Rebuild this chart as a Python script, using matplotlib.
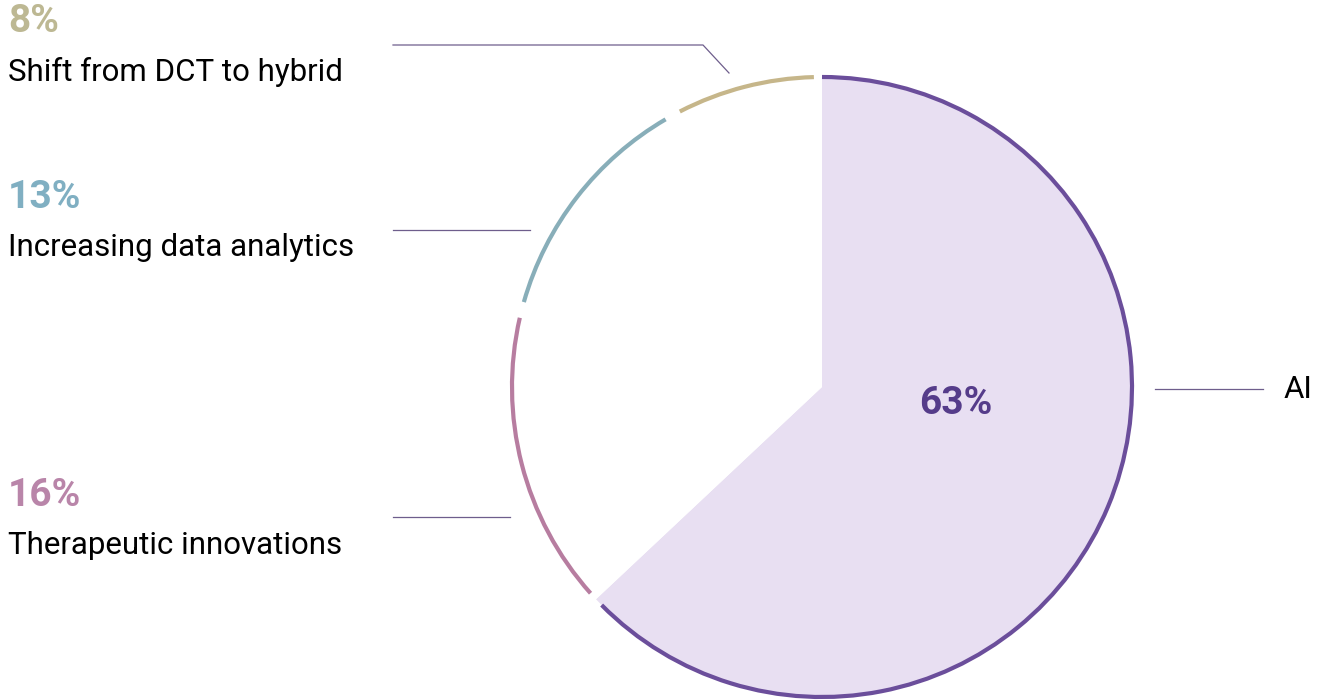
import matplotlib.pyplot as plt
from matplotlib.patches import Arc

plt.rcParams['font.family'] = ['Roboto', 'DejaVu Sans']

# slices, drawn clockwise from 12 o'clock
labels = ['AI', 'Therapeutic innovations', 'Increasing data analytics', 'Shift from DCT to hybrid']
shares = [63, 16, 13, 8]
arc_colors = ['#6B4E9B', '#B77DA0', '#88AEB9', '#C6B68A']
pct_colors = ['#553C8A', '#B985A9', '#80AFC2', '#BDB893']
fill_color = '#E8DFF2'
leader_color = '#6E5E8C'

W, H = 1322, 700
fig = plt.figure(figsize=(W / 100, H / 100), dpi=100)
ax = fig.add_axes([0, 0, 1, 1])

cx, cy, r = 822, H - 387, 310

wedges, _ = ax.pie(shares, startangle=90, counterclock=False,
                   center=(cx, cy), radius=r, frame=True,
                   colors=[fill_color, 'white', 'white', 'white'],
                   wedgeprops=dict(linewidth=0))
ax.set_xlim(0, W)
ax.set_ylim(0, H)
ax.set_aspect('equal')
ax.axis('off')

# coloured rim arcs with small gaps between slices
gap = 1.5
for i, (w, c) in enumerate(zip(wedges, arc_colors)):
    t1, t2 = w.theta1 + gap, w.theta2 - gap
    if i == 0:
        t2 = w.theta2
    ax.add_patch(Arc((cx, cy), 2 * r, 2 * r, theta1=t1, theta2=t2,
                     color=c, lw=3.0, zorder=3))

pct_size, name_size = 28, 22.5

# big value inside the AI slice
ax.text(956, H - 403, f'{shares[0]}%', color=pct_colors[0], fontsize=pct_size,
        fontweight='bold', ha='center', va='center')

# AI label on the right
ax.plot([1155, 1263], [H - 389, H - 389], color=leader_color, lw=0.9)
ax.text(1284, H - 389, labels[0], fontsize=name_size, color='black', va='center', ha='left')

# left-hand labels: (percent y, name y, leader line points)
left = {
    3: (22, 72, [(393, 45), (703, 45), (729, 73)]),
    2: (198, 248, [(393, 230), (530, 230)]),
    1: (495, 545, [(393, 517), (510, 517)]),
}
for i, (py, ny, pts) in left.items():
    ax.text(8, H - py, f'{shares[i]}%', color=pct_colors[i], fontsize=pct_size,
            fontweight='bold', ha='left', va='center')
    ax.text(8, H - ny, labels[i], color='black', fontsize=name_size, ha='left', va='center')
    xs = [p[0] for p in pts]
    ys = [H - p[1] for p in pts]
    ax.plot(xs, ys, color=leader_color, lw=0.9)

fig.savefig('out.png', dpi=100)
